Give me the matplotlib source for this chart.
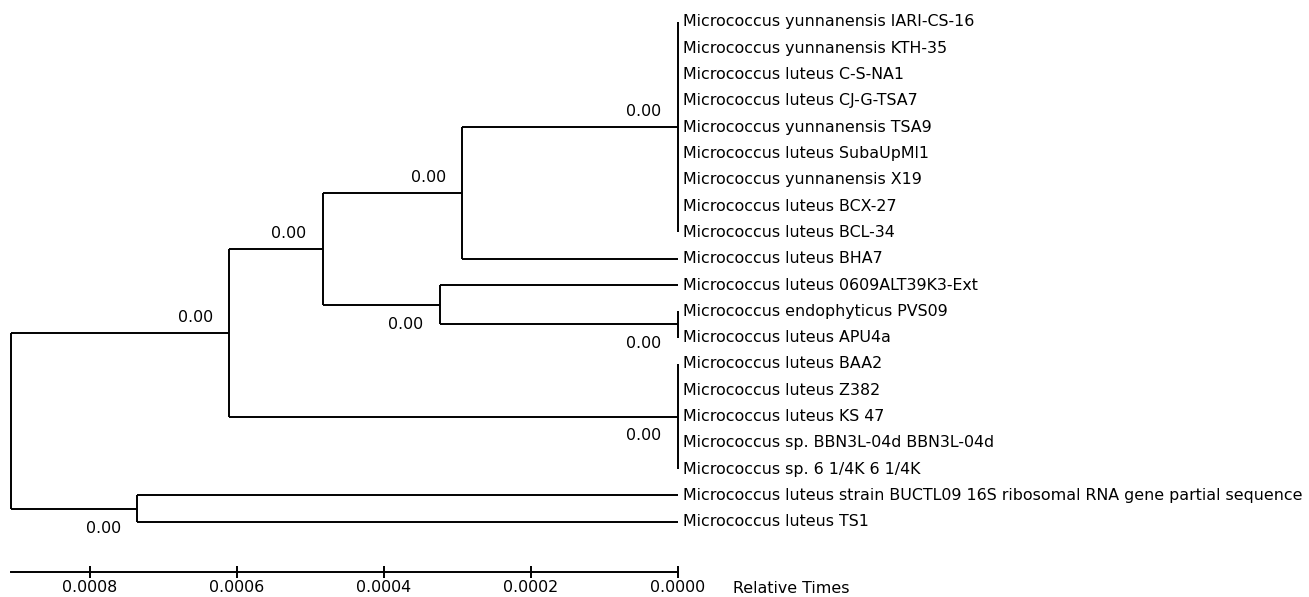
import matplotlib
matplotlib.use("Agg")
import matplotlib.pyplot as plt

# feuilles de l'arbre, de haut en bas
leaf_names = [
    "Micrococcus yunnanensis IARI-CS-16",
    "Micrococcus yunnanensis KTH-35",
    "Micrococcus luteus C-S-NA1",
    "Micrococcus luteus CJ-G-TSA7",
    "Micrococcus yunnanensis TSA9",
    "Micrococcus luteus SubaUpMl1",
    "Micrococcus yunnanensis X19",
    "Micrococcus luteus BCX-27",
    "Micrococcus luteus BCL-34",
    "Micrococcus luteus BHA7",
    "Micrococcus luteus 0609ALT39K3-Ext",
    "Micrococcus endophyticus PVS09",
    "Micrococcus luteus APU4a",
    "Micrococcus luteus BAA2",
    "Micrococcus luteus Z382",
    "Micrococcus luteus KS 47",
    "Micrococcus sp. BBN3L-04d BBN3L-04d",
    "Micrococcus sp. 6 1/4K 6 1/4K",
    "Micrococcus luteus strain BUCTL09 16S ribosomal RNA gene partial sequence",
    "Micrococcus luteus TS1",
]

# noeuds internes (enfants d'abord) : enfants (int = feuille, str = noeud), temps relatif
node_names = ["A", "B", "E", "D", "C", "F", "G", "H", "root"]
node_children = [
    [0, 1, 2, 3, 4, 5, 6, 7, 8],
    ["A", 9],
    [11, 12],
    [10, "E"],
    ["B", "D"],
    [13, 14, 15, 16, 17],
    ["C", "F"],
    [18, 19],
    ["G", "H"],
]
node_times = [0.0, 0.000293, 0.0, 0.000324, 0.000483, 0.0, 0.000610, 0.000735, 0.000907]
node_labels = ["0.00", "0.00", "0.00", "0.00", "0.00", "0.00", "0.00", "0.00", ""]
label_below = [False, False, True, True, False, True, False, True, False]

scale_ticks = [0.0008, 0.0006, 0.0004, 0.0002, 0.0]
axis_title = "Relative Times"

plt.rcParams['font.family'] = ['DejaVu Sans']
FS = 11.4

fig = plt.figure(figsize=(13.09, 5.97), dpi=100)
ax = fig.add_axes([0, 0, 1, 1])

pos = {}  # nom -> (temps, y)


def position(c):
    if isinstance(c, int):
        return 0.0, float(c)
    return pos[c]


for name, kids, t in zip(node_names, node_children, node_times):
    ys = [position(k)[1] for k in kids]
    pos[name] = (t, (min(ys) + max(ys)) / 2)

for name, kids, t, lab, below in zip(node_names, node_children, node_times, node_labels, label_below):
    ys = [position(k)[1] for k in kids]
    ax.plot([t, t], [min(ys), max(ys)], color='black', lw=1.4, solid_capstyle='butt')
    for k in kids:
        kt, ky = position(k)
        ax.plot([t, kt], [ky, ky], color='black', lw=1.4, solid_capstyle='butt')
    if lab:
        ty = pos[name][1]
        ax.annotate(lab, (t, ty), xytext=(-12, -14 if below else 11),
                    textcoords='offset points', ha='right', va='center', fontsize=FS)

for i, n in enumerate(leaf_names):
    ax.annotate(n, (0.0, i), xytext=(3.5, 0), textcoords='offset points',
                ha='left', va='center', fontsize=FS)

# echelle en bas
ax.set_xlim(0.000922, -0.000859)
ax.set_ylim(21.86, -0.836)
ax.set_yticks([])
for s in ['top', 'left', 'right']:
    ax.spines[s].set_visible(False)
ax.spines['bottom'].set_position(('data', 20.91))
ax.spines['bottom'].set_bounds(node_times[-1], 0.0)
ax.spines['bottom'].set_linewidth(1.4)
ax.set_xticks(scale_ticks)
ax.set_xticklabels([f"{v:.4f}" for v in scale_ticks])
ax.tick_params(axis='x', direction='inout', length=8, width=1.4, pad=2, labelsize=FS)
ax.annotate(axis_title, (0.0, 20.91), xytext=(40, -12), textcoords='offset points',
            ha='left', va='center', fontsize=FS)

fig.savefig("out.png", dpi=100)
